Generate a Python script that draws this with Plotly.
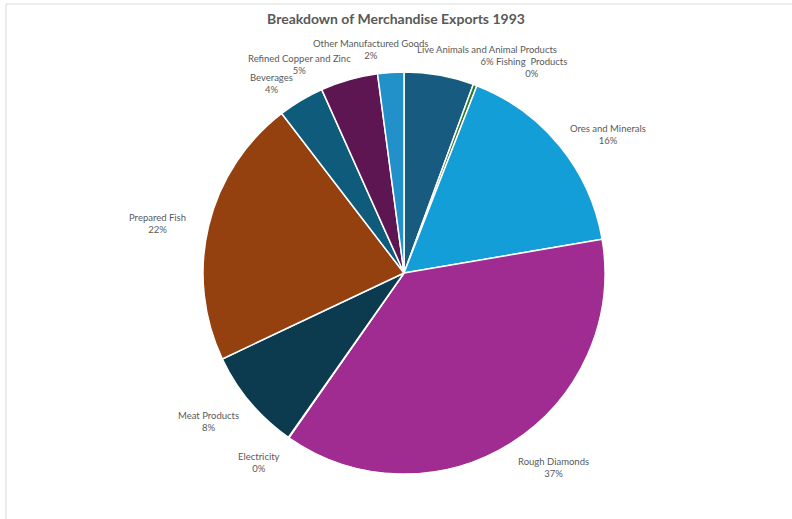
import plotly.graph_objects as go

categories = ["Live Animals and Animal Products", "Fishing  Products", "Ores and Minerals",
              "Rough Diamonds", "Electricity", "Meat Products", "Prepared Fish",
              "Beverages", "Refined Copper and Zinc", "Other Manufactured Goods"]
shares = [5.6, 0.3, 16.4, 37.35, 0.05, 8.2, 21.6, 3.7, 4.6, 2.1]
colors = ["#175b80", "#2f7a2a", "#139ed8", "#a02b91", "#e97132", "#0c3a4f",
          "#94400f", "#0f5b7c", "#5e1652", "#2290c9"]

# label placement (pixel centres, layout only)
label_pos = [(487, 56), (531, 68), (608, 134), (553, 467), (259, 462),
             (208, 421), (157, 223), (271, 83), (299, 64), (370, 50)]

W, H = 792, 519
cx, cy, r = 404, 273, 201
total = sum(shares)

fig = go.Figure(go.Pie(
    labels=categories,
    values=shares,
    sort=False,
    direction="clockwise",
    rotation=0,
    marker=dict(colors=colors, line=dict(color="white", width=1.5)),
    textinfo="none",
    hoverinfo="label+percent",
    showlegend=False,
    domain=dict(x=[(cx - r) / W, (cx + r) / W], y=[(H - cy - r) / H, (H - cy + r) / H]),
))

annotations = []
for cat, v, (px, py) in zip(categories, shares, label_pos):
    annotations.append(dict(
        text=f"{cat}<br>{round(v / total * 100)}%",
        x=px / W, y=1 - py / H, xref="paper", yref="paper",
        xanchor="center", yanchor="middle", showarrow=False, align="center",
        font=dict(family="Lato", size=9.5, color="#595959"),
    ))

fig.update_layout(
    width=W, height=H,
    margin=dict(l=0, r=0, t=0, b=0),
    paper_bgcolor="white",
    title=dict(text="<b>Breakdown of Merchandise Exports 1993</b>",
               x=0.5, xanchor="center", y=1 - 19 / H, yanchor="middle",
               font=dict(family="Lato", size=14, color="#595959")),
    annotations=annotations,
    shapes=[dict(type="rect", xref="paper", yref="paper",
                 x0=6 / W, x1=1.05, y0=-0.05, y1=1 - 4 / H,
                 line=dict(color="#d9d9d9", width=1), fillcolor="rgba(0,0,0,0)")],
)

fig.write_html("out.html")
